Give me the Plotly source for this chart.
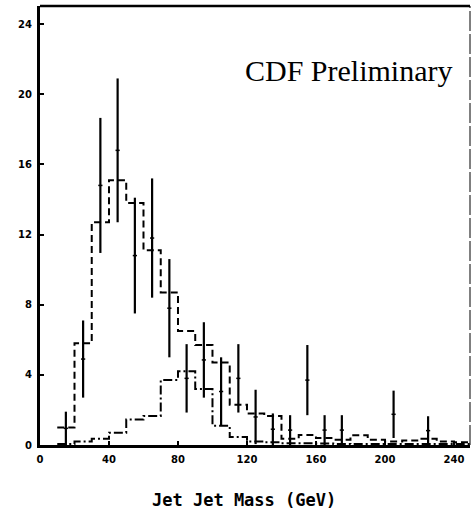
import plotly.graph_objects as go

# ---- data ----
# measured data points (bin centres, GeV), counts and symmetric errors
data_x = [15, 25, 35, 45, 55, 65, 75, 85, 95, 105, 115, 125, 135, 145, 155, 165, 175, 205, 225]
data_y = [0.95, 4.9, 14.8, 16.8, 10.8, 11.8, 7.8, 3.8, 4.85, 3.05, 3.8, 1.6, 0.9, 0.85, 3.7, 0.85, 0.85, 1.75, 0.82]
data_err = [0.95, 2.2, 3.85, 4.1, 3.3, 3.4, 2.8, 1.95, 2.15, 1.95, 1.95, 1.55, 0.9, 0.85, 2.0, 0.85, 0.85, 1.35, 0.82]

# histogram bin left edges (10 GeV bins)
bin_edges = [10, 20, 30, 40, 50, 60, 70, 80, 90, 100, 110, 120, 130, 140, 150,
             160, 170, 180, 190, 200, 210, 220, 230, 240, 250]
# dashed histogram (QCD)
qcd_vals = [1.0, 5.8, 12.7, 15.1, 13.8, 11.1, 8.7, 6.5, 5.7, 4.7, 2.3, 1.8, 1.65,
            0.35, 0.57, 0.4, 0.3, 0.55, 0.3, 0.2, 0.25, 0.35, 0.2, 0.15]
# dash-dot histogram (W/Z signal)
sig_vals = [0.05, 0.2, 0.35, 0.7, 1.45, 1.65, 3.7, 4.2, 3.2, 1.1, 0.45, 0.2, 0.15,
            0.1, 0.1, 0.08, 0.06, 0.05, 0.05, 0.05, 0.05, 0.05, 0.05, 0.05]

x_ticks = [0, 40, 80, 120, 160, 200, 240]
y_ticks = [0, 4, 8, 12, 16, 20, 24]

fig = go.Figure()

fig.add_trace(go.Scatter(
    x=bin_edges, y=qcd_vals + [qcd_vals[-1]], mode="lines", line_shape="hv",
    line=dict(color="black", width=2, dash="7px,4px"), hoverinfo="skip",
    showlegend=False))

fig.add_trace(go.Scatter(
    x=bin_edges, y=sig_vals + [sig_vals[-1]], mode="lines", line_shape="hv",
    line=dict(color="black", width=2, dash="9px,3px,2px,3px"), hoverinfo="skip",
    showlegend=False))

fig.add_trace(go.Scatter(
    x=data_x, y=data_y, mode="markers",
    marker=dict(symbol="line-ew", size=3, line=dict(color="black", width=1.5), color="black"),
    error_y=dict(type="data", array=data_err, visible=True, color="black", thickness=2.2, width=0),
    showlegend=False))

font_bold = dict(family="DejaVu Sans", size=10, color="black", weight="bold")

fig.update_layout(
    width=471, height=511,
    margin=dict(l=40, r=1, t=6, b=66),
    paper_bgcolor="white", plot_bgcolor="white",
    xaxis=dict(range=[0, 249.3], tickvals=x_ticks, ticktext=[str(v) for v in x_ticks],
               ticks="inside", ticklen=4, tickwidth=1.5, tickcolor="black",
               showgrid=False, zeroline=False, showline=True, linecolor="black", linewidth=2.5,
               tickfont=font_bold, ticklabelstandoff=3),
    yaxis=dict(range=[0, 25.03], tickvals=y_ticks, ticktext=[str(v) for v in y_ticks],
               ticks="inside", ticklen=4, tickwidth=1.5, tickcolor="black",
               showgrid=False, zeroline=False, showline=True, linecolor="black", linewidth=3,
               tickfont=font_bold, ticklabelstandoff=3),
    shapes=[
        dict(type="line", xref="paper", yref="paper", x0=0, x1=1, y0=1, y1=1,
             line=dict(color="black", width=2.5)),
        dict(type="line", xref="paper", yref="paper", x0=1, x1=1, y0=0, y1=1,
             line=dict(color="black", width=1, dash="20px,3px")),
    ],
    annotations=[
        dict(text="CDF Preliminary", xref="paper", yref="paper", x=0.965, y=0.852,
             xanchor="right", yanchor="middle", showarrow=False,
             font=dict(family="Liberation Serif", size=30, color="black")),
        dict(text="Jet Jet Mass (GeV)", xref="paper", yref="paper", x=0.474, y=-0.1253,
             xanchor="center", yanchor="middle", showarrow=False,
             font=dict(family="DejaVu Sans Mono", size=17, color="black", weight="bold")),
    ],
)

fig.write_html("out.html")
